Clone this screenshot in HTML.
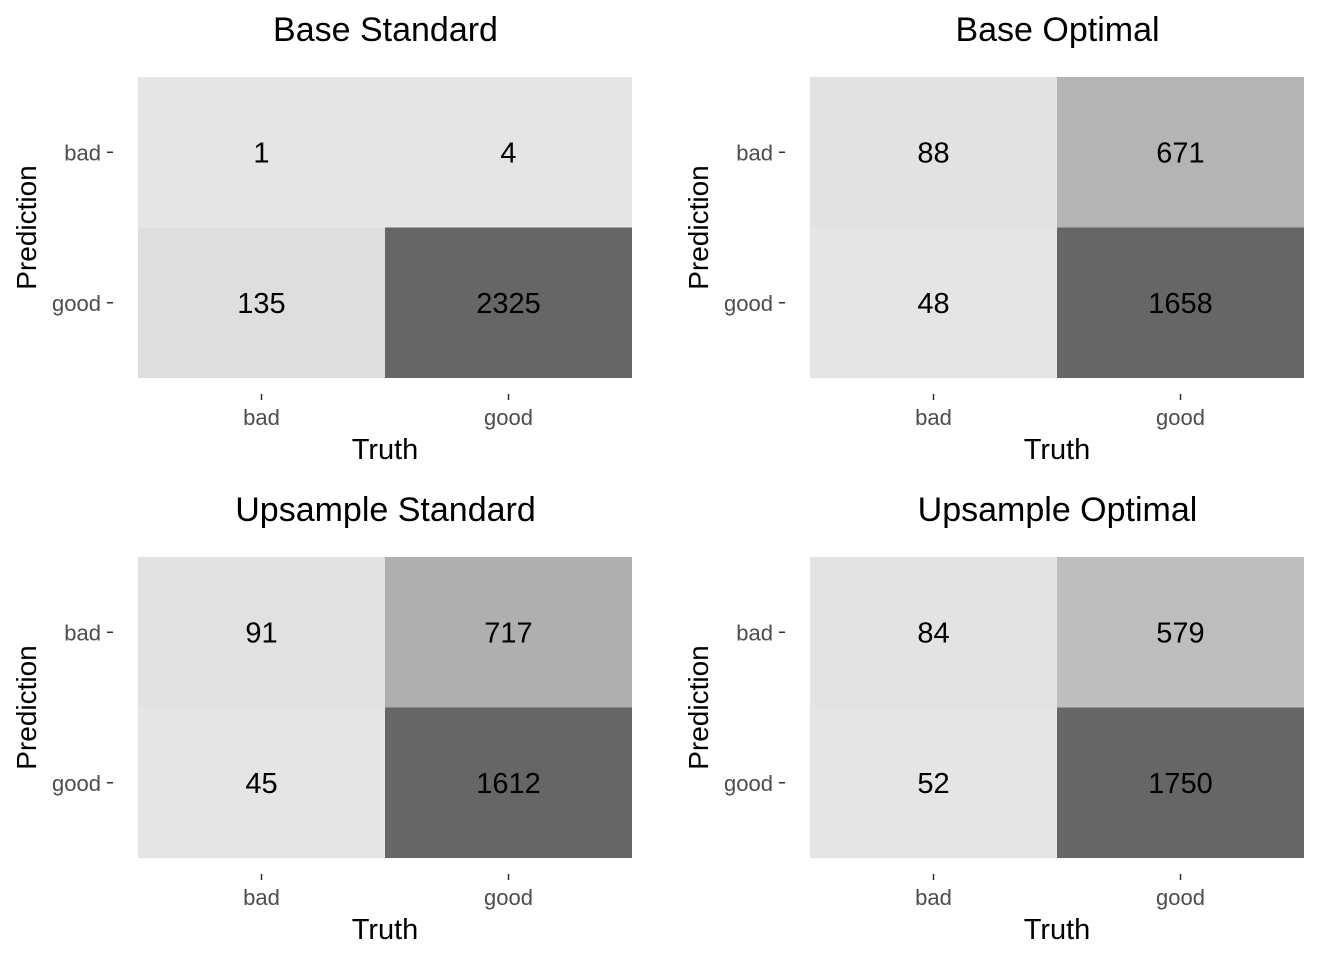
<!DOCTYPE html>
<html><head><meta charset="utf-8"><style>
html,body{margin:0;padding:0;background:#fff}
svg{display:block;font-family:"Liberation Sans",Arial,sans-serif}
</style></head><body>
<svg id="chart" width="1344" height="960" viewBox="0 0 1344 960"></svg>
<script>
const titles = ["Base Standard","Base Optimal","Upsample Standard","Upsample Optimal"];
const truthCats = ["bad","good"];
const predCats = ["bad","good"];
// values per panel: [pred bad/truth bad, pred bad/truth good, pred good/truth bad, pred good/truth good]
const baseStandard = [1,4,135,2325];
const baseOptimal = [88,671,48,1658];
const upStandard = [91,717,45,1612];
const upOptimal = [84,579,52,1750];
const panelsData = [baseStandard,baseOptimal,upStandard,upOptimal];

const NS="http://www.w3.org/2000/svg";
const svg=document.getElementById('chart');
function mk(tag,attrs,parent){const e=document.createElementNS(NS,tag);for(const k in attrs)e.setAttribute(k,attrs[k]);(parent||svg).appendChild(e);return e;}
function slug(s){return s.toLowerCase().replace(/\s+/g,'-');}

const W=494,H=301,X0=138,Y0=77,DX=672,DY=480;
panelsData.forEach((vals,p)=>{
  const ox=X0+(p%2)*DX, oy=Y0+Math.floor(p/2)*DY;
  const g=mk('g',{});
  
  
  const xs=i=>ox+i*W/truthCats.length;
  const ys=j=>oy+j*H/predCats.length;
  const cw=W/truthCats.length, ch=H/predCats.length;
  const mn=Math.min(...vals), mx=Math.max(...vals);
  vals.forEach((v,k)=>{
    const j=Math.floor(k/2), i=k%2;
    const t=mx>mn?(v-mn)/(mx-mn):0;
    const c=Math.round(229-t*(229-102));
    const r=mk('rect',{x:xs(i),y:ys(j),width:cw,height:ch,fill:`rgb(${c},${c},${c})`},g);
    
    
    const tx=mk('text',{x:xs(i)+cw/2,y:ys(j)+ch/2+10,'text-anchor':'middle','font-size':29,fill:'#000'},g);
    tx.textContent=v;
    
    
  });
  const ti=mk('text',{x:ox+W/2+0.5,y:oy-36,'text-anchor':'middle','font-size':34,fill:'#000'},g);
  ti.textContent=titles[p];
  
  
  predCats.forEach((c,j)=>{
    const y=ys(j)+ch/2;
    mk('line',{x1:ox-31,x2:ox-25,y1:y,y2:y,stroke:'#333','stroke-width':1.5},g);
    const l=mk('text',{x:ox-37,y:y+8,'text-anchor':'end','font-size':22,fill:'#4d4d4d'},g);
    l.textContent=c;
    
    
  });
  truthCats.forEach((c,i)=>{
    const x=xs(i)+cw/2;
    mk('line',{x1:x,x2:x,y1:oy+H+16,y2:oy+H+22,stroke:'#333','stroke-width':1.5},g);
    const l=mk('text',{x:x,y:oy+H+47,'text-anchor':'middle','font-size':22,fill:'#4d4d4d'},g);
    l.textContent=c;
    
    
  });
  const xt=mk('text',{x:ox+W/2,y:oy+H+81,'text-anchor':'middle','font-size':29,fill:'#000'},g);
  xt.textContent='Truth';
  
  
  const yx=ox-102, yy=oy+H/2;
  const yt=mk('text',{x:yx,y:yy,'text-anchor':'middle','font-size':28,fill:'#000',transform:`rotate(-90 ${yx} ${yy})`},g);
  yt.textContent='Prediction';
  
  
});
</script>
</body></html>
